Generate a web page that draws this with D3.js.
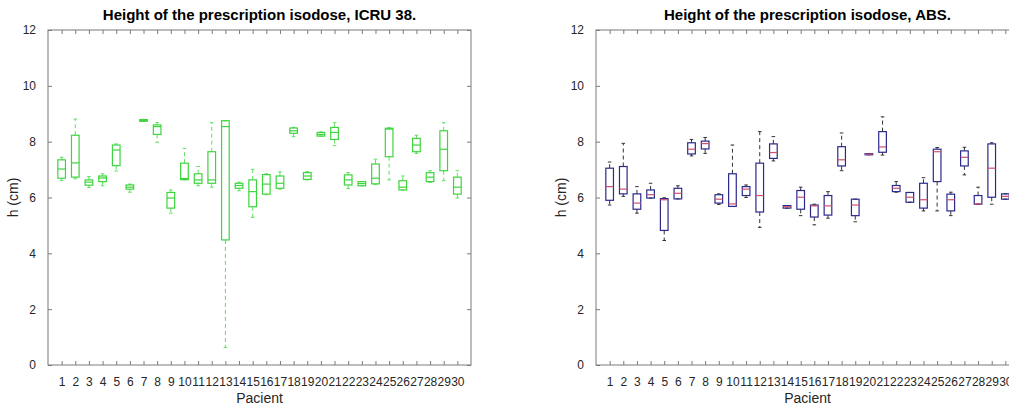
<!DOCTYPE html>
<html>
<head>
<meta charset="utf-8">
<script src="https://cdn.jsdelivr.net/npm/d3@7"></script>
<style>
  body { margin: 0; background: #fff; }
  svg { display: block; font-family: "Liberation Sans", Arial, sans-serif; }
  .tick text { fill: #262626; font-size: 12px; }
</style>
</head>
<body>
<svg id="chart" width="1009" height="408"></svg>
<script>
// -----------
// DATOS
// -----------
const pacientes = d3.range(1, 31);
const yTicks = [0, 2, 4, 6, 8, 10, 12];

// ICRU 38
const icruHigh = [7.44, 8.81, 6.75, 6.85, 7.92, 6.48, 8.80, 8.68, 6.27, 7.76, 7.11, 8.68, 8.75, 6.55, 7.01,
                  6.85, 6.92, 8.51, 6.93, 8.35, 8.68, 6.89, 6.57, 7.37, 8.50, 6.77, 8.23, 6.96, 8.68, 6.96];
const icruQ3   = [7.35, 8.23, 6.63, 6.77, 7.88, 6.45, 8.79, 8.60, 6.18, 7.23, 6.85, 7.64, 8.75, 6.51, 6.63,
                  6.82, 6.77, 8.49, 6.89, 8.33, 8.51, 6.81, 6.57, 7.20, 8.48, 6.60, 8.12, 6.89, 8.39, 6.73];
const icruMed  = [7.02, 7.24, 6.55, 6.70, 7.70, 6.37, 8.76, 8.54, 5.98, 6.68, 6.63, 6.63, 8.54, 6.43, 6.21,
                  6.48, 6.51, 8.39, 6.77, 8.26, 8.33, 6.63, 6.50, 6.69, 8.45, 6.37, 7.88, 6.73, 7.73, 6.37];
const icruQ1   = [6.69, 6.73, 6.44, 6.57, 7.14, 6.30, 8.73, 8.26, 5.62, 6.64, 6.51, 6.51, 4.48, 6.33, 5.67,
                  6.12, 6.33, 8.30, 6.65, 8.20, 8.08, 6.45, 6.42, 6.49, 7.46, 6.27, 7.64, 6.57, 6.96, 6.12];
const icruLow  = [6.61, 6.67, 6.36, 6.42, 6.95, 6.19, 8.73, 7.98, 5.44, 6.63, 6.42, 6.37, 0.63, 6.24, 5.29,
                  6.10, 6.30, 8.18, 6.63, 8.20, 7.86, 6.32, 6.42, 6.47, 6.63, 6.27, 7.58, 6.54, 6.60, 5.98];

// ABS
const absHigh = [7.27, 7.94, 6.39, 6.51, 5.99, 6.42, 8.08, 8.15, 6.13, 7.88, 6.45, 8.36, 8.18, 5.71, 6.37,
                 5.76, 6.21, 8.31, 5.94, 7.57, 8.89, 6.57, 6.18, 6.71, 7.79, 6.19, 7.80, 6.37, 7.96, 6.13];
const absQ3   = [7.05, 7.11, 6.13, 6.27, 5.96, 6.33, 7.96, 8.02, 6.10, 6.85, 6.39, 7.23, 7.92, 5.71, 6.25,
                 5.73, 6.07, 7.82, 5.94, 7.57, 8.36, 6.43, 6.18, 6.51, 7.73, 6.12, 7.67, 6.07, 7.92, 6.13];
const absMed  = [6.39, 6.30, 5.80, 6.10, 5.92, 6.15, 7.73, 7.93, 5.94, 5.77, 6.30, 6.07, 7.61, 5.67, 6.01,
                 5.70, 5.70, 7.35, 5.73, 7.55, 7.81, 6.33, 6.01, 5.92, 7.64, 5.92, 7.44, 5.77, 7.05, 6.04];
const absQ1   = [5.90, 6.13, 5.58, 5.98, 4.82, 5.95, 7.56, 7.74, 5.80, 5.68, 6.07, 5.48, 7.40, 5.62, 5.58,
                 5.30, 5.37, 7.13, 5.35, 7.53, 7.62, 6.21, 5.83, 5.62, 6.57, 5.52, 7.13, 5.76, 6.01, 5.94];
const absLow  = [5.73, 6.04, 5.44, 5.98, 4.46, 5.95, 7.49, 7.58, 5.75, 5.68, 6.00, 4.93, 7.31, 5.62, 5.35,
                 5.02, 5.26, 6.96, 5.13, 7.53, 7.52, 6.19, 5.83, 5.52, 5.52, 5.35, 6.81, 5.76, 5.76, 5.94];

// -----------
// DIBUJO
// -----------
const svg = d3.select('#chart');
const axisColor = '#7a7a7a';

function drawPanel(opts) {
  const { left, title, high, q3, med, q1, low, boxColor, medColor, whiskerColor } = opts;
  const width = 423;
  const top = 30;
  const bottom = 365;

  const x = d3.scaleLinear().domain([0, 31]).range([left, left + width]);
  const y = d3.scaleLinear().domain([0, 12]).range([bottom, top]);
  const g = svg.append('g');

  // marco
  g.append('rect')
    .attr('x', left).attr('y', top)
    .attr('width', width).attr('height', bottom - top)
    .attr('fill', 'none').attr('stroke', axisColor).attr('stroke-width', 1);

  // ejes (ticks hacia dentro)
  g.append('g').attr('transform', `translate(0,${bottom})`)
    .call(d3.axisBottom(x).tickValues(pacientes).tickSizeInner(-4).tickSizeOuter(0).tickPadding(12));
  g.append('g').attr('transform', `translate(0,${top})`)
    .call(d3.axisTop(x).tickValues(pacientes).tickSizeInner(-4).tickSizeOuter(0).tickFormat(''));
  g.append('g').attr('transform', `translate(${left},0)`)
    .call(d3.axisLeft(y).tickValues(yTicks).tickSizeInner(-4).tickSizeOuter(0).tickPadding(12));
  g.append('g').attr('transform', `translate(${left + width},0)`)
    .call(d3.axisRight(y).tickValues(yTicks).tickSizeInner(-4).tickSizeOuter(0).tickFormat(''));
  g.selectAll('.domain').remove();
  g.selectAll('.tick line').attr('stroke', axisColor);

  // cajas
  const half = 0.28;
  const cap = 0.13;
  pacientes.forEach((p, i) => {
    const b = g.append('g');
    // bigotes
    b.append('line')
      .attr('x1', x(p)).attr('x2', x(p))
      .attr('y1', y(q3[i])).attr('y2', y(high[i]))
      .attr('stroke', whiskerColor).attr('stroke-dasharray', '4,3');
    b.append('line')
      .attr('x1', x(p)).attr('x2', x(p))
      .attr('y1', y(q1[i])).attr('y2', y(low[i]))
      .attr('stroke', whiskerColor).attr('stroke-dasharray', '4,3');
    [high[i], low[i]].forEach(v => {
      b.append('line')
        .attr('x1', x(p - cap)).attr('x2', x(p + cap))
        .attr('y1', y(v)).attr('y2', y(v))
        .attr('stroke', whiskerColor);
    });
    b.append('rect')
      .attr('x', x(p - half)).attr('width', x(p + half) - x(p - half))
      .attr('y', y(q3[i])).attr('height', Math.max(1, y(q1[i]) - y(q3[i])))
      .attr('fill', 'none').attr('stroke', boxColor).attr('stroke-width', 1.2);
    b.append('line')
      .attr('x1', x(p - half)).attr('x2', x(p + half))
      .attr('y1', y(med[i])).attr('y2', y(med[i]))
      .attr('stroke', medColor).attr('stroke-width', 1.2);
  });

  // textos
  svg.append('text')
    .attr('x', left + width / 2).attr('y', 20)
    .attr('text-anchor', 'middle')
    .style('font-size', '15px').style('font-weight', 'bold').attr('fill', '#000')
    .text(title);
  svg.append('text')
    .attr('x', left + width / 2).attr('y', 403)
    .attr('text-anchor', 'middle')
    .style('font-size', '14px').attr('fill', '#262626')
    .text('Pacient');
  svg.append('text')
    .attr('transform', `translate(${left - 30},${(top + bottom) / 2}) rotate(-90)`)
    .attr('text-anchor', 'middle')
    .style('font-size', '14px').attr('fill', '#262626')
    .text('h (cm)');
}

drawPanel({
  left: 48, title: 'Height of the prescription isodose, ICRU 38.',
  high: icruHigh, q3: icruQ3, med: icruMed, q1: icruQ1, low: icruLow,
  boxColor: '#3ed43e', medColor: '#3ed43e', whiskerColor: '#5ee05e'
});

drawPanel({
  left: 596, title: 'Height of the prescription isodose, ABS.',
  high: absHigh, q3: absQ3, med: absMed, q1: absQ1, low: absLow,
  boxColor: '#2a2a8c', medColor: '#d0506e', whiskerColor: '#333'
});
</script>
</body>
</html>
